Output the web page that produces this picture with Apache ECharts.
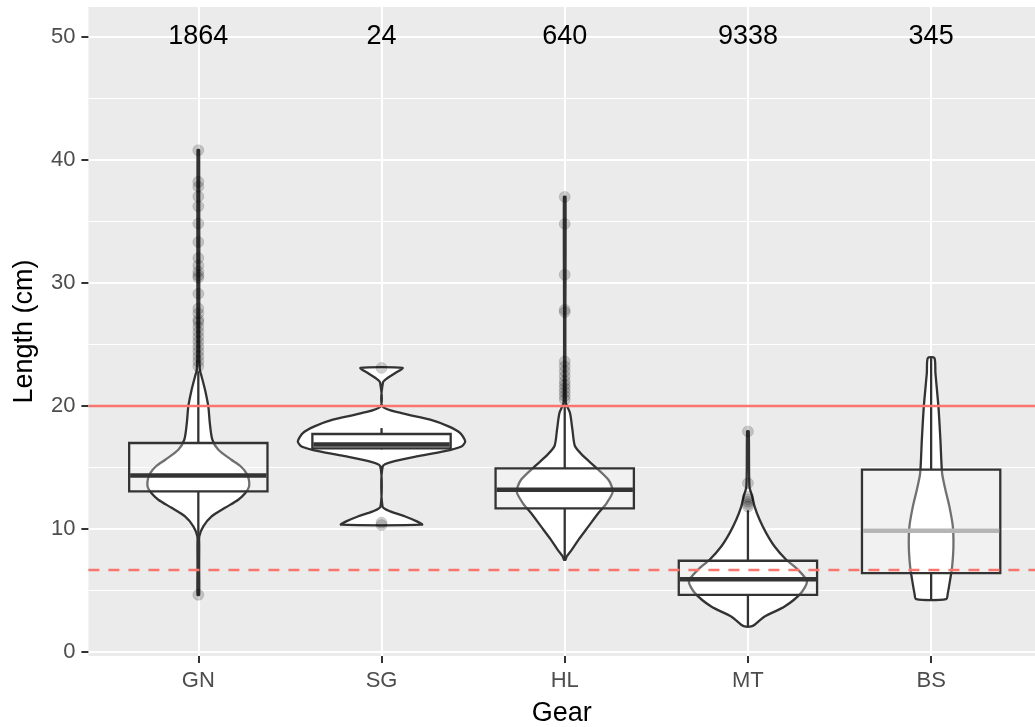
<!DOCTYPE html>
<html>
<head>
<meta charset="utf-8">
<title>Length by gear</title>
<script src="https://cdn.jsdelivr.net/npm/echarts@6.0.0/dist/echarts.min.js"></script>
<style>
  html, body { margin: 0; padding: 0; background: #ffffff; }
  #chart { width: 1035px; height: 727px; }
</style>
</head>
<body>
<div id="chart"></div>
<script>
// Gear types and number of measured fish per gear
const categories = ['GN', 'SG', 'HL', 'MT', 'BS'];
const counts = [1864, 24, 640, 9338, 345];

// Box summaries: lower whisker, Q1, median, Q3, upper whisker (cm)
const boxGN = [7.2, 13.03, 14.33, 16.97, 22.8];
const boxSG = [16.45, 16.53, 16.85, 17.7, 18.18];
const boxHL = [7.48, 11.65, 13.17, 14.9, 20.1];
const boxMT = [2.06, 4.63, 5.9, 7.4, 11.5];
const boxBS = [4.28, 6.4, 9.84, 14.8, 23.87];

// Outlying lengths (cm)
const outGN = [40.76, 38.2, 37.8, 37.0, 36.2, 34.8, 33.3, 32.0, 31.4, 30.9, 30.6, 30.4, 29.1,
               27.9, 27.5, 27.0, 26.8, 26.4, 26.0, 25.6, 25.2, 24.8, 24.4, 24.0, 23.6, 23.2, 4.63];
const outSG = [23.07, 10.5, 10.3];
const outHL = [36.97, 34.77, 30.65, 27.8, 27.6, 23.6, 23.2, 22.8, 22.4, 22.0, 21.7, 21.4, 21.1, 20.8, 20.5];
const outMT = [17.91, 13.7, 12.6, 12.4, 12.2, 12.0, 11.8];
const outBS = [];

// Violin outlines: [length (cm), density]
const violinGN = [[4.63, 0.8], [7.0, 0.8], [8.6, 0.9], [9.38, 1], [10.19, 5], [11.0, 13.3], [11.7, 26.7],
                  [12.36, 40], [12.9, 47], [13.44, 50.8], [14.0, 50.5], [14.53, 48], [15.1, 42], [15.61, 33],
                  [16.42, 20], [17.24, 14], [18.59, 11.5], [19.94, 10], [21.3, 6.7], [22.38, 3.3],
                  [22.93, 1.5], [25.0, 0.9], [40.76, 0.8]];
const violinSG = [[10.33, 40.5], [10.6, 35.3], [11.0, 23.7], [11.41, 8.7], [11.81, 1], [15.07, 1.2],
                  [15.47, 12], [15.88, 35], [16.28, 62], [16.69, 80], [17.1, 83.7], [17.78, 78.7],
                  [18.32, 67], [18.86, 48.7], [19.4, 20], [19.94, 1], [21.9, 1.5], [22.25, 6],
                  [22.66, 13.7], [23.07, 21]];
const violinHL = [[7.48, 0.8], [7.75, 2], [8.29, 7], [9.1, 13.7], [10.19, 23.7], [11.28, 33.7],
                  [12.09, 42], [13.03, 48], [13.98, 43.7], [15.07, 30], [15.9, 18.7], [16.7, 10.3],
                  [18.05, 7.7], [19.4, 5.3], [20.3, 1], [36.97, 0.8]];
const violinMT = [[2.06, 3.3], [2.2, 6.7], [2.87, 16.7], [3.68, 36.7], [4.77, 53], [5.72, 59],
                  [6.67, 50], [7.48, 38.3], [8.56, 26.7], [9.65, 18.3], [10.73, 11.7], [11.8, 6.7],
                  [12.63, 4.3], [13.44, 1.5], [17.91, 0.8]];
const violinBS = [[4.28, 15], [4.77, 16.7], [5.85, 19], [6.93, 21], [8.56, 22.3], [10.19, 21.7],
                  [11.8, 18.3], [13.17, 14.3], [14.5, 11], [17.2, 9.3], [19.94, 7.3], [22.66, 4.3],
                  [23.87, 3.3]];

// Reference lengths (cm): solid and dashed horizontal lines
const refSolid = 20;
const refDashed = 6.7;

// Axis ticks
const yMajorTicks = [0, 10, 20, 30, 40, 50];
const yMinorTicks = [5, 15, 25, 35, 45];
const xTicks = [0, 1, 2, 3, 4];

const boxes = [boxGN, boxSG, boxHL, boxMT, boxBS];
const outliers = [outGN, outSG, outHL, outMT, outBS];
const violins = [violinGN, violinSG, violinHL, violinMT, violinBS];

// drawing constants
const FONT = '"Liberation Sans", Arial, Helvetica, sans-serif';
const DENSITY_TO_X = 1 / 183.2;  // density unit -> category widths
const BOX_WIDTH = 0.755;         // in category widths
const INK = '#333333';
const medianColor = { BS: '#b5b5b5' };

const chart = echarts.init(document.getElementById('chart'), null, { renderer: 'canvas' });

const outlierData = [];
outliers.forEach((arr, i) => arr.forEach(v => outlierData.push([i, v])));

function renderViolin(params, api) {
  const i = api.value(0);
  const prof = violins[i];
  const right = prof.map(p => api.coord([i + p[1] * DENSITY_TO_X, p[0]]));
  const left = prof.slice().reverse().map(p => api.coord([i - p[1] * DENSITY_TO_X, p[0]]));
  return {
    type: 'polygon',
    shape: { points: right.concat(left), smooth: 0.25 },
    style: { fill: '#ffffff', stroke: INK, lineWidth: 2.3 }
  };
}

function renderBox(params, api) {
  const i = api.value(0);
  const b = boxes[i];
  const half = BOX_WIDTH / 2;
  const pLo = api.coord([i, b[0]]);
  const pQ1 = api.coord([i, b[1]]);
  const pMed = api.coord([i, b[2]]);
  const pQ3 = api.coord([i, b[3]]);
  const pHi = api.coord([i, b[4]]);
  const xl = api.coord([i - half, 0])[0];
  const xr = api.coord([i + half, 0])[0];
  const lineStyle = { stroke: INK, lineWidth: 2.3, fill: null };
  return {
    type: 'group',
    children: [
      { type: 'line', shape: { x1: pQ3[0], y1: pQ3[1], x2: pHi[0], y2: pHi[1] }, style: lineStyle },
      { type: 'line', shape: { x1: pQ1[0], y1: pQ1[1], x2: pLo[0], y2: pLo[1] }, style: lineStyle },
      {
        type: 'rect',
        shape: { x: xl, y: pQ3[1], width: xr - xl, height: pQ1[1] - pQ3[1] },
        style: { fill: 'rgba(255,255,255,0.3)', stroke: INK, lineWidth: 2.3 }
      },
      {
        type: 'line',
        shape: { x1: xl + 1, y1: pMed[1], x2: xr - 1, y2: pMed[1] },
        style: { stroke: medianColor[categories[i]] || INK, lineWidth: 4.5 }
      }
    ]
  };
}

function renderCount(params, api) {
  const i = api.value(0);
  const p = api.coord([i, 50]);
  return {
    type: 'text',
    x: p[0], y: p[1],
    style: {
      text: String(counts[i]),
      fontSize: 27, fontFamily: FONT, fill: '#000000',
      align: 'center', verticalAlign: 'middle'
    }
  };
}

const catIndex = categories.map((c, i) => [i]);

const option = {
  animation: false,
  backgroundColor: '#ffffff',
  grid: {
    left: 88.4, right: 0, top: 7, bottom: 71,
    outerBoundsMode: 'none',
    show: true, backgroundColor: '#EBEBEB', borderWidth: 0
  },
  xAxis: {
    // the panel continues past the right edge of the canvas
    type: 'value', min: -0.6, max: 4.567,
    name: 'Gear', nameLocation: 'middle', nameGap: 44,
    nameTextStyle: { fontSize: 27, fontFamily: FONT, color: '#000000' },
    axisLine: { show: false, onZero: false },
    axisTick: { show: true, customValues: xTicks, length: 7, lineStyle: { color: INK, width: 2 } },
    axisLabel: {
      customValues: xTicks, margin: 14,
      formatter: v => categories[Math.round(v)] || '',
      fontSize: 22, fontFamily: FONT, color: '#4D4D4D'
    },
    splitLine: { show: true, lineStyle: { color: '#ffffff', width: 2 } }
  },
  yAxis: [
    {
      type: 'value', min: -0.34, max: 52.4,
      name: 'Length (cm)', nameLocation: 'middle', nameGap: 50,
      nameTextStyle: { fontSize: 27, fontFamily: FONT, color: '#000000' },
      axisLine: { show: false, onZero: false },
      axisTick: { show: true, customValues: yMajorTicks, length: 7, lineStyle: { color: INK, width: 2 } },
      axisLabel: {
        customValues: yMajorTicks, margin: 13,
        fontSize: 22, fontFamily: FONT, color: '#4D4D4D'
      },
      splitLine: { show: true, lineStyle: { color: '#ffffff', width: 2 } }
    },
    {
      type: 'value', min: -0.34, max: 52.4, position: 'left',
      axisLine: { show: false, onZero: false },
      axisTick: { show: false, customValues: yMinorTicks },
      axisLabel: { show: false, customValues: yMinorTicks },
      splitLine: { show: true, lineStyle: { color: '#ffffff', width: 1 } }
    }
  ],
  series: [
    {
      type: 'custom', name: 'violin', z: 1,
      data: catIndex, renderItem: renderViolin, silent: true
    },
    {
      type: 'custom', name: 'box', z: 2,
      data: catIndex, renderItem: renderBox, silent: true
    },
    {
      type: 'scatter', name: 'outliers', z: 3,
      data: outlierData, symbol: 'circle', symbolSize: 11,
      itemStyle: { color: 'rgba(0,0,0,0.22)', borderColor: 'rgba(0,0,0,0.15)', borderWidth: 1 },
      silent: true
    },
    {
      type: 'custom', name: 'counts', z: 4,
      data: catIndex, renderItem: renderCount, silent: true,
      markLine: {
        silent: true, symbol: 'none', label: { show: false },
        lineStyle: { color: '#F8766D', width: 2.3 },
        data: [
          { yAxis: refSolid, lineStyle: { type: 'solid' } },
          { yAxis: refDashed, lineStyle: { type: [11, 9] } }
        ]
      }
    }
  ]
};

chart.setOption(option);
</script>
</body>
</html>
